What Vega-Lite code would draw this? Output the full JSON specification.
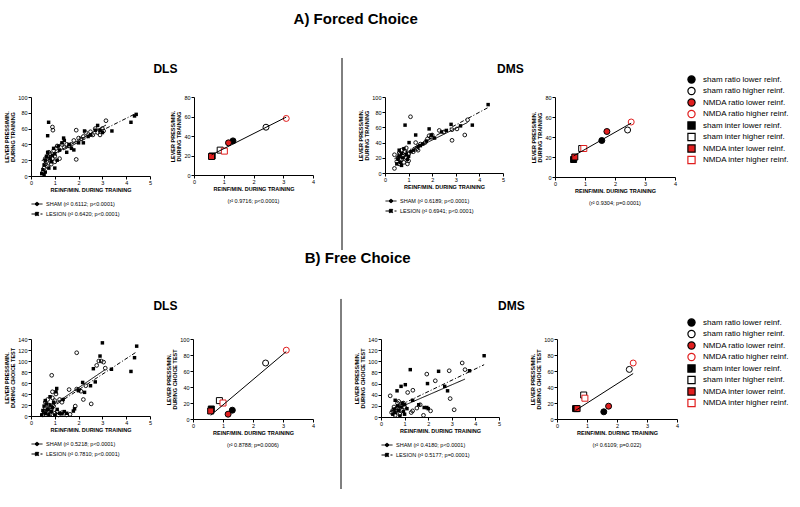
{
  "$schema": "https://vega.github.io/schema/vega-lite/v6.json",
  "background": "white",
  "padding": {"left": 4, "top": 12, "right": 0, "bottom": 0},
  "datasets": {
    "fdls": [
      {"grp":"SHAM","x":0.5,"y":5},{"grp":"SHAM","x":0.55,"y":10},{"grp":"SHAM","x":0.6,"y":15},{"grp":"SHAM","x":0.6,"y":22},{"grp":"SHAM","x":0.65,"y":18},{"grp":"SHAM","x":0.7,"y":25},{"grp":"SHAM","x":0.7,"y":12},{"grp":"SHAM","x":0.75,"y":30},{"grp":"SHAM","x":0.8,"y":20},{"grp":"SHAM","x":0.8,"y":28},{"grp":"SHAM","x":0.85,"y":15},{"grp":"SHAM","x":0.9,"y":22},{"grp":"SHAM","x":0.9,"y":62},{"grp":"SHAM","x":0.92,"y":58},{"grp":"SHAM","x":0.95,"y":32},{"grp":"SHAM","x":1.0,"y":18},{"grp":"SHAM","x":1.0,"y":25},{"grp":"SHAM","x":1.05,"y":35},{"grp":"SHAM","x":1.1,"y":38},{"grp":"SHAM","x":1.2,"y":22},{"grp":"SHAM","x":1.3,"y":40},{"grp":"SHAM","x":1.4,"y":36},{"grp":"SHAM","x":1.5,"y":40},{"grp":"SHAM","x":1.6,"y":38},{"grp":"SHAM","x":1.7,"y":40},{"grp":"SHAM","x":1.8,"y":45},{"grp":"SHAM","x":1.9,"y":58},{"grp":"SHAM","x":1.9,"y":21},{"grp":"SHAM","x":2.0,"y":48},{"grp":"SHAM","x":2.1,"y":47},{"grp":"SHAM","x":2.2,"y":50},{"grp":"SHAM","x":2.3,"y":55},{"grp":"SHAM","x":2.5,"y":56},{"grp":"SHAM","x":2.6,"y":52},{"grp":"SHAM","x":2.7,"y":60},{"grp":"SHAM","x":2.8,"y":55},{"grp":"SHAM","x":2.9,"y":52},{"grp":"SHAM","x":3.0,"y":60},{"grp":"SHAM","x":3.05,"y":57},{"grp":"SHAM","x":3.15,"y":70},
      {"grp":"LESION","x":0.45,"y":3},{"grp":"LESION","x":0.5,"y":8},{"grp":"LESION","x":0.55,"y":2},{"grp":"LESION","x":0.55,"y":14},{"grp":"LESION","x":0.6,"y":20},{"grp":"LESION","x":0.6,"y":5},{"grp":"LESION","x":0.65,"y":25},{"grp":"LESION","x":0.7,"y":30},{"grp":"LESION","x":0.7,"y":51},{"grp":"LESION","x":0.74,"y":68},{"grp":"LESION","x":0.75,"y":10},{"grp":"LESION","x":0.8,"y":22},{"grp":"LESION","x":0.85,"y":18},{"grp":"LESION","x":0.9,"y":26},{"grp":"LESION","x":0.95,"y":35},{"grp":"LESION","x":1.0,"y":10},{"grp":"LESION","x":1.0,"y":28},{"grp":"LESION","x":1.1,"y":20},{"grp":"LESION","x":1.15,"y":38},{"grp":"LESION","x":1.2,"y":33},{"grp":"LESION","x":1.3,"y":42},{"grp":"LESION","x":1.37,"y":48},{"grp":"LESION","x":1.4,"y":45},{"grp":"LESION","x":1.5,"y":30},{"grp":"LESION","x":1.6,"y":40},{"grp":"LESION","x":1.7,"y":35},{"grp":"LESION","x":1.8,"y":33},{"grp":"LESION","x":2.0,"y":42},{"grp":"LESION","x":2.2,"y":42},{"grp":"LESION","x":2.25,"y":57},{"grp":"LESION","x":2.4,"y":50},{"grp":"LESION","x":2.5,"y":52},{"grp":"LESION","x":2.7,"y":58},{"grp":"LESION","x":2.8,"y":64},{"grp":"LESION","x":2.9,"y":58},{"grp":"LESION","x":3.0,"y":55},{"grp":"LESION","x":3.4,"y":57},{"grp":"LESION","x":4.2,"y":68},{"grp":"LESION","x":4.35,"y":76},{"grp":"LESION","x":4.42,"y":78}
    ],
    "fdms": [
      {"grp":"SHAM","x":0.4,"y":6},{"grp":"SHAM","x":0.4,"y":24},{"grp":"SHAM","x":0.5,"y":15},{"grp":"SHAM","x":0.55,"y":20},{"grp":"SHAM","x":0.6,"y":12},{"grp":"SHAM","x":0.6,"y":26},{"grp":"SHAM","x":0.65,"y":25},{"grp":"SHAM","x":0.7,"y":18},{"grp":"SHAM","x":0.7,"y":30},{"grp":"SHAM","x":0.75,"y":22},{"grp":"SHAM","x":0.8,"y":14},{"grp":"SHAM","x":0.85,"y":28},{"grp":"SHAM","x":0.9,"y":20},{"grp":"SHAM","x":0.9,"y":33},{"grp":"SHAM","x":0.95,"y":12},{"grp":"SHAM","x":1.0,"y":25},{"grp":"SHAM","x":1.0,"y":16},{"grp":"SHAM","x":1.08,"y":74},{"grp":"SHAM","x":1.2,"y":28},{"grp":"SHAM","x":1.3,"y":40},{"grp":"SHAM","x":1.35,"y":32},{"grp":"SHAM","x":1.4,"y":30},{"grp":"SHAM","x":1.5,"y":38},{"grp":"SHAM","x":1.7,"y":40},{"grp":"SHAM","x":1.8,"y":45},{"grp":"SHAM","x":1.87,"y":49},{"grp":"SHAM","x":1.95,"y":47},{"grp":"SHAM","x":2.0,"y":50},{"grp":"SHAM","x":2.3,"y":56},{"grp":"SHAM","x":2.5,"y":54},{"grp":"SHAM","x":2.84,"y":43},{"grp":"SHAM","x":2.84,"y":57},{"grp":"SHAM","x":3.05,"y":58},{"grp":"SHAM","x":3.38,"y":50},{"grp":"SHAM","x":3.5,"y":70},
      {"grp":"LESION","x":0.5,"y":12},{"grp":"LESION","x":0.55,"y":18},{"grp":"LESION","x":0.6,"y":22},{"grp":"LESION","x":0.6,"y":30},{"grp":"LESION","x":0.65,"y":14},{"grp":"LESION","x":0.7,"y":26},{"grp":"LESION","x":0.7,"y":10},{"grp":"LESION","x":0.75,"y":20},{"grp":"LESION","x":0.8,"y":32},{"grp":"LESION","x":0.85,"y":63},{"grp":"LESION","x":0.9,"y":24},{"grp":"LESION","x":0.95,"y":18},{"grp":"LESION","x":1.0,"y":22},{"grp":"LESION","x":1.02,"y":40},{"grp":"LESION","x":1.1,"y":28},{"grp":"LESION","x":1.2,"y":30},{"grp":"LESION","x":1.3,"y":50},{"grp":"LESION","x":1.4,"y":35},{"grp":"LESION","x":1.5,"y":36},{"grp":"LESION","x":1.6,"y":38},{"grp":"LESION","x":1.75,"y":42},{"grp":"LESION","x":1.87,"y":58},{"grp":"LESION","x":1.96,"y":50},{"grp":"LESION","x":2.1,"y":46},{"grp":"LESION","x":2.4,"y":54},{"grp":"LESION","x":2.6,"y":56},{"grp":"LESION","x":2.8,"y":64},{"grp":"LESION","x":3.2,"y":62},{"grp":"LESION","x":3.7,"y":63},{"grp":"LESION","x":4.37,"y":90}
    ],
    "frdls": [
      {"grp":"SHAM","x":0.5,"y":2},{"grp":"SHAM","x":0.55,"y":8},{"grp":"SHAM","x":0.6,"y":15},{"grp":"SHAM","x":0.6,"y":25},{"grp":"SHAM","x":0.65,"y":5},{"grp":"SHAM","x":0.7,"y":30},{"grp":"SHAM","x":0.7,"y":12},{"grp":"SHAM","x":0.75,"y":20},{"grp":"SHAM","x":0.8,"y":3},{"grp":"SHAM","x":0.85,"y":10},{"grp":"SHAM","x":0.87,"y":74},{"grp":"SHAM","x":0.9,"y":44},{"grp":"SHAM","x":0.9,"y":33},{"grp":"SHAM","x":0.95,"y":18},{"grp":"SHAM","x":1.0,"y":28},{"grp":"SHAM","x":1.0,"y":5},{"grp":"SHAM","x":1.05,"y":40},{"grp":"SHAM","x":1.1,"y":8},{"grp":"SHAM","x":1.15,"y":2},{"grp":"SHAM","x":1.2,"y":30},{"grp":"SHAM","x":1.3,"y":6},{"grp":"SHAM","x":1.3,"y":25},{"grp":"SHAM","x":1.5,"y":2},{"grp":"SHAM","x":1.6,"y":48},{"grp":"SHAM","x":1.64,"y":3},{"grp":"SHAM","x":1.86,"y":18},{"grp":"SHAM","x":1.92,"y":115},{"grp":"SHAM","x":1.92,"y":49},{"grp":"SHAM","x":2.0,"y":48},{"grp":"SHAM","x":2.1,"y":45},{"grp":"SHAM","x":2.2,"y":30},{"grp":"SHAM","x":2.3,"y":55},{"grp":"SHAM","x":2.53,"y":22},{"grp":"SHAM","x":2.76,"y":92},{"grp":"SHAM","x":2.85,"y":100},{"grp":"SHAM","x":2.95,"y":100},{"grp":"SHAM","x":3.05,"y":98},{"grp":"SHAM","x":3.12,"y":87},
      {"grp":"LESION","x":0.45,"y":2},{"grp":"LESION","x":0.5,"y":10},{"grp":"LESION","x":0.55,"y":18},{"grp":"LESION","x":0.6,"y":5},{"grp":"LESION","x":0.6,"y":28},{"grp":"LESION","x":0.65,"y":22},{"grp":"LESION","x":0.7,"y":12},{"grp":"LESION","x":0.75,"y":3},{"grp":"LESION","x":0.8,"y":20},{"grp":"LESION","x":0.8,"y":35},{"grp":"LESION","x":0.85,"y":8},{"grp":"LESION","x":0.9,"y":15},{"grp":"LESION","x":0.95,"y":25},{"grp":"LESION","x":1.0,"y":2},{"grp":"LESION","x":1.05,"y":44},{"grp":"LESION","x":1.08,"y":50},{"grp":"LESION","x":1.1,"y":12},{"grp":"LESION","x":1.2,"y":5},{"grp":"LESION","x":1.3,"y":4},{"grp":"LESION","x":1.35,"y":30},{"grp":"LESION","x":1.4,"y":8},{"grp":"LESION","x":1.5,"y":5},{"grp":"LESION","x":1.78,"y":9},{"grp":"LESION","x":1.83,"y":13},{"grp":"LESION","x":2.0,"y":46},{"grp":"LESION","x":2.17,"y":61},{"grp":"LESION","x":2.25,"y":43},{"grp":"LESION","x":2.5,"y":55},{"grp":"LESION","x":2.62,"y":86},{"grp":"LESION","x":2.7,"y":62},{"grp":"LESION","x":2.9,"y":109},{"grp":"LESION","x":3.0,"y":133},{"grp":"LESION","x":3.38,"y":85},{"grp":"LESION","x":4.2,"y":81},{"grp":"LESION","x":4.35,"y":106},{"grp":"LESION","x":4.44,"y":127}
    ],
    "frdms": [
      {"grp":"SHAM","x":0.39,"y":38},{"grp":"SHAM","x":0.45,"y":8},{"grp":"SHAM","x":0.5,"y":12},{"grp":"SHAM","x":0.55,"y":18},{"grp":"SHAM","x":0.6,"y":3},{"grp":"SHAM","x":0.65,"y":10},{"grp":"SHAM","x":0.7,"y":15},{"grp":"SHAM","x":0.7,"y":25},{"grp":"SHAM","x":0.75,"y":28},{"grp":"SHAM","x":0.8,"y":5},{"grp":"SHAM","x":0.85,"y":20},{"grp":"SHAM","x":0.9,"y":12},{"grp":"SHAM","x":0.95,"y":25},{"grp":"SHAM","x":1.0,"y":18},{"grp":"SHAM","x":1.13,"y":44},{"grp":"SHAM","x":1.28,"y":8},{"grp":"SHAM","x":1.34,"y":11},{"grp":"SHAM","x":1.35,"y":48},{"grp":"SHAM","x":1.52,"y":16},{"grp":"SHAM","x":1.66,"y":22},{"grp":"SHAM","x":1.8,"y":3},{"grp":"SHAM","x":1.94,"y":77},{"grp":"SHAM","x":2.1,"y":11},{"grp":"SHAM","x":2.3,"y":65},{"grp":"SHAM","x":2.89,"y":83},{"grp":"SHAM","x":2.93,"y":33},{"grp":"SHAM","x":3.1,"y":13},{"grp":"SHAM","x":3.44,"y":97},{"grp":"SHAM","x":3.56,"y":85},
      {"grp":"LESION","x":0.5,"y":5},{"grp":"LESION","x":0.55,"y":14},{"grp":"LESION","x":0.6,"y":8},{"grp":"LESION","x":0.6,"y":30},{"grp":"LESION","x":0.68,"y":47},{"grp":"LESION","x":0.7,"y":20},{"grp":"LESION","x":0.75,"y":12},{"grp":"LESION","x":0.8,"y":2},{"grp":"LESION","x":0.85,"y":55},{"grp":"LESION","x":0.85,"y":18},{"grp":"LESION","x":0.9,"y":25},{"grp":"LESION","x":0.95,"y":10},{"grp":"LESION","x":1.0,"y":22},{"grp":"LESION","x":1.0,"y":5},{"grp":"LESION","x":1.03,"y":58},{"grp":"LESION","x":1.1,"y":15},{"grp":"LESION","x":1.24,"y":85},{"grp":"LESION","x":1.34,"y":30},{"grp":"LESION","x":1.6,"y":22},{"grp":"LESION","x":1.83,"y":17},{"grp":"LESION","x":1.94,"y":17},{"grp":"LESION","x":1.97,"y":60},{"grp":"LESION","x":2.0,"y":15},{"grp":"LESION","x":2.44,"y":82},{"grp":"LESION","x":2.7,"y":55},{"grp":"LESION","x":2.82,"y":47},{"grp":"LESION","x":3.75,"y":83},{"grp":"LESION","x":4.37,"y":110}
    ],
    "fdls_s": [
      {"grp":"sham ratio lower reinf.","x":1.31,"y":35},{"grp":"sham ratio higher reinf.","x":2.42,"y":49},{"grp":"sham inter lower reinf.","x":0.61,"y":19.5},{"grp":"sham inter higher reinf.","x":0.88,"y":25.5},
      {"grp":"NMDA ratio lower reinf.","x":1.16,"y":33},{"grp":"NMDA ratio higher reinf.","x":3.1,"y":58},{"grp":"NMDA inter lower reinf.","x":0.59,"y":19},{"grp":"NMDA inter higher reinf.","x":1.02,"y":24.5}
    ],
    "fdms_s": [
      {"grp":"sham ratio lower reinf.","x":1.56,"y":36.5},{"grp":"sham ratio higher reinf.","x":2.42,"y":47},{"grp":"sham inter lower reinf.","x":0.62,"y":17.5},{"grp":"sham inter higher reinf.","x":0.89,"y":28.5},
      {"grp":"NMDA ratio lower reinf.","x":1.73,"y":45.5},{"grp":"NMDA ratio higher reinf.","x":2.54,"y":55},{"grp":"NMDA inter lower reinf.","x":0.66,"y":20},{"grp":"NMDA inter higher reinf.","x":0.96,"y":28.5}
    ],
    "frdls_s": [
      {"grp":"sham ratio lower reinf.","x":1.31,"y":11},{"grp":"sham ratio higher reinf.","x":2.42,"y":70},{"grp":"sham inter lower reinf.","x":0.61,"y":12.5},{"grp":"sham inter higher reinf.","x":0.88,"y":23},
      {"grp":"NMDA ratio lower reinf.","x":1.17,"y":6},{"grp":"NMDA ratio higher reinf.","x":3.11,"y":86},{"grp":"NMDA inter lower reinf.","x":0.59,"y":10},{"grp":"NMDA inter higher reinf.","x":1.0,"y":20}
    ],
    "frdms_s": [
      {"grp":"sham ratio lower reinf.","x":1.56,"y":9},{"grp":"sham ratio higher reinf.","x":2.41,"y":62},{"grp":"sham inter lower reinf.","x":0.62,"y":13},{"grp":"sham inter higher reinf.","x":0.89,"y":30},
      {"grp":"NMDA ratio lower reinf.","x":1.72,"y":16},{"grp":"NMDA ratio higher reinf.","x":2.54,"y":70},{"grp":"NMDA inter lower reinf.","x":0.67,"y":13},{"grp":"NMDA inter higher reinf.","x":0.93,"y":26}
    ]
  },
  "spacing": 0,
  "resolve": {
    "scale": {"shape": "independent", "fill": "independent", "stroke": "independent", "color": "independent", "strokeDash": "independent"},
    "legend": {"shape": "independent", "fill": "independent", "stroke": "independent", "color": "independent", "strokeDash": "independent"}
  },
  "vconcat": [
    {
      "title": {"text": "A) Forced Choice", "fontSize": 15, "offset": 30, "dx": -41},
      "spacing": 15,
      "resolve": {"scale": {"color": "independent", "strokeDash": "independent"}, "legend": {"color": "independent", "strokeDash": "independent"}},
      "hconcat": [
        {
          "title": {"text": "DLS", "fontSize": 12, "offset": 19, "dx": 6},
          "spacing": 18,
          "resolve": {"scale": {"color": "independent", "strokeDash": "independent"}, "legend": {"color": "independent", "strokeDash": "independent"}},
          "hconcat": [
            {
              "width": 119, "height": 79,
              "data": {"name": "fdls"},
              "layer": [
                {"transform": [{"filter": "datum.grp == 'SHAM'"}],
                 "mark": {"type": "point", "shape": "circle", "filled": false, "color": "black", "size": 14, "strokeWidth": 0.9, "opacity": 1},
                 "encoding": {
                   "x": {"field": "x", "type": "quantitative", "scale": {"domain": [0, 5], "nice": false}, "axis": {"tickCount": 5, "title": "REINF/MIN. DURING TRAINING"}},
                   "y": {"field": "y", "type": "quantitative", "scale": {"domain": [0, 100], "nice": false}, "axis": {"tickCount": 5, "title": ["LEVER PRESS/MIN.", "DURING TRAINING"]}}}},
                {"transform": [{"filter": "datum.grp == 'LESION'"}],
                 "mark": {"type": "square", "color": "black", "size": 12, "opacity": 1},
                 "encoding": {"x": {"field": "x", "type": "quantitative"}, "y": {"field": "y", "type": "quantitative"}}},
                {"transform": [{"regression": "y", "on": "x", "groupby": ["grp"]}],
                 "mark": {"type": "line", "strokeWidth": 1},
                 "encoding": {
                   "x": {"field": "x", "type": "quantitative"}, "y": {"field": "y", "type": "quantitative"},
                   "color": {"field": "grp", "type": "nominal", "scale": {"domain": ["SHAM", "LESION"], "range": ["black", "black"]},
                     "legend": {"title": null, "orient": "bottom", "direction": "vertical", "offset": 5, "symbolSize": 121, "labelFontSize": 5.5, "labelColor": "black", "rowPadding": 0, "labelOffset": 3, "padding": 0,
                       "labelExpr": "datum.label == 'SHAM' ? 'SHAM (r² 0.6112; p<0.0001)' : 'LESION (r² 0.6420; p<0.0001)'",
                       "encode": {"symbols": {"update": {"shape": {"signal": "datum.value == 'SHAM' ? 'M-1,0H1M-0.3,0A0.3,0.3 0 1,1 0.3,0A0.3,0.3 0 1,1 -0.3,0Z' : 'M-1,0H1M-0.3,-0.3H0.3V0.3H-0.3Z'"}, "fill": {"value": "black"}, "stroke": {"value": "black"}, "strokeWidth": {"value": 1}, "strokeDash": {"value": [1, 0]}}}}}},
                   "strokeDash": {"field": "grp", "type": "nominal", "scale": {"domain": ["SHAM", "LESION"], "range": [[1, 0], [4, 2, 1, 2]]}, "legend": null}}}
              ]
            },
            {
              "width": 119, "height": 78,
              "data": {"name": "fdls_s"},
              "title": {"text": "(r² 0.9716; p<0.0001)", "orient": "bottom", "fontSize": 5.5, "fontWeight": "normal", "font": "Liberation Sans", "offset": 7},
              "layer": [
                {"mark": {"type": "point", "filled": true, "size": 36, "strokeWidth": 1, "opacity": 1},
                 "encoding": {
                   "x": {"field": "x", "type": "quantitative", "scale": {"domain": [0, 4], "nice": false}, "axis": {"tickCount": 4, "title": "REINF/MIN. DURING TRAINING"}},
                   "y": {"field": "y", "type": "quantitative", "scale": {"domain": [0, 80], "nice": false}, "axis": {"tickCount": 4, "title": ["LEVER PRESS/MIN.", "DURING TRAINING"]}},
                   "shape": {"field": "grp", "type": "nominal", "scale": {"domain": ["sham ratio lower reinf.", "sham ratio higher reinf.", "NMDA ratio lower reinf.", "NMDA ratio higher reinf.", "sham inter lower reinf.", "sham inter higher reinf.", "NMDA inter lower reinf.", "NMDA inter higher reinf."], "range": ["circle", "circle", "circle", "circle", "square", "square", "square", "square"]},
                     "legend": {"title": null, "orient": "none", "legendX": 656, "legendY": -22, "padding": 0, "symbolSize": 52, "labelFontSize": 8, "labelColor": "black", "rowPadding": -1.5, "labelOffset": 7, "symbolStrokeWidth": 1.2}},
                   "fill": {"field": "grp", "type": "nominal", "scale": {"domain": ["sham ratio lower reinf.", "sham ratio higher reinf.", "NMDA ratio lower reinf.", "NMDA ratio higher reinf.", "sham inter lower reinf.", "sham inter higher reinf.", "NMDA inter lower reinf.", "NMDA inter higher reinf."], "range": ["black", "white", "#e01e1e", "white", "black", "white", "#e01e1e", "white"]},
                     "legend": {"title": null, "orient": "none", "legendX": 656, "legendY": -22, "padding": 0, "symbolSize": 52, "labelFontSize": 8, "labelColor": "black", "rowPadding": -1.5, "labelOffset": 7, "symbolStrokeWidth": 1.2}},
                   "stroke": {"field": "grp", "type": "nominal", "scale": {"domain": ["sham ratio lower reinf.", "sham ratio higher reinf.", "NMDA ratio lower reinf.", "NMDA ratio higher reinf.", "sham inter lower reinf.", "sham inter higher reinf.", "NMDA inter lower reinf.", "NMDA inter higher reinf."], "range": ["black", "black", "black", "#e01e1e", "black", "black", "black", "#e01e1e"]},
                     "legend": {"title": null, "orient": "none", "legendX": 656, "legendY": -22, "padding": 0, "symbolSize": 52, "labelFontSize": 8, "labelColor": "black", "rowPadding": -1.5, "labelOffset": 7, "symbolStrokeWidth": 1.2}}}},
                {"transform": [{"regression": "y", "on": "x"}],
                 "mark": {"type": "line", "color": "black", "strokeWidth": 1},
                 "encoding": {"x": {"field": "x", "type": "quantitative"}, "y": {"field": "y", "type": "quantitative"}}}
              ]
            }
          ]
        },
        {
          "width": 12, "height": 153,
          "data": {"values": [{"item": "separator"}]},
          "mark": {"type": "rule", "color": "black", "strokeWidth": 1, "clip": false},
          "encoding": {
            "x": {"datum": 1, "type": "quantitative", "scale": {"domain": [0, 1]}, "axis": null},
            "y": {"datum": 1.255, "type": "quantitative", "scale": {"domain": [0, 1]}, "axis": null},
            "y2": {"datum": 0}
          }
        },
        {
          "title": {"text": "DMS", "fontSize": 12, "offset": 19, "dx": -7},
          "spacing": 26,
          "resolve": {"scale": {"color": "independent", "strokeDash": "independent"}, "legend": {"color": "independent", "strokeDash": "independent"}},
          "hconcat": [
            {
              "width": 118, "height": 76,
              "data": {"name": "fdms"},
              "layer": [
                {"transform": [{"filter": "datum.grp == 'SHAM'"}],
                 "mark": {"type": "point", "shape": "circle", "filled": false, "color": "black", "size": 14, "strokeWidth": 0.9, "opacity": 1},
                 "encoding": {
                   "x": {"field": "x", "type": "quantitative", "scale": {"domain": [0, 5], "nice": false}, "axis": {"tickCount": 5, "title": "REINF/MIN. DURING TRAINING"}},
                   "y": {"field": "y", "type": "quantitative", "scale": {"domain": [0, 100], "nice": false}, "axis": {"tickCount": 5, "title": ["LEVER PRESS/MIN.", "DURING TRAINING"]}}}},
                {"transform": [{"filter": "datum.grp == 'LESION'"}],
                 "mark": {"type": "square", "color": "black", "size": 12, "opacity": 1},
                 "encoding": {"x": {"field": "x", "type": "quantitative"}, "y": {"field": "y", "type": "quantitative"}}},
                {"transform": [{"regression": "y", "on": "x", "groupby": ["grp"]}],
                 "mark": {"type": "line", "strokeWidth": 1},
                 "encoding": {
                   "x": {"field": "x", "type": "quantitative"}, "y": {"field": "y", "type": "quantitative"},
                   "color": {"field": "grp", "type": "nominal", "scale": {"domain": ["SHAM", "LESION"], "range": ["black", "black"]},
                     "legend": {"title": null, "orient": "bottom", "direction": "vertical", "offset": 5, "symbolSize": 121, "labelFontSize": 5.5, "labelColor": "black", "rowPadding": 0, "labelOffset": 3, "padding": 0,
                       "labelExpr": "datum.label == 'SHAM' ? 'SHAM (r² 0.6189; p<0.0001)' : 'LESION (r² 0.6941; p<0.0001)'",
                       "encode": {"symbols": {"update": {"shape": {"signal": "datum.value == 'SHAM' ? 'M-1,0H1M-0.3,0A0.3,0.3 0 1,1 0.3,0A0.3,0.3 0 1,1 -0.3,0Z' : 'M-1,0H1M-0.3,-0.3H0.3V0.3H-0.3Z'"}, "fill": {"value": "black"}, "stroke": {"value": "black"}, "strokeWidth": {"value": 1}, "strokeDash": {"value": [1, 0]}}}}}},
                   "strokeDash": {"field": "grp", "type": "nominal", "scale": {"domain": ["SHAM", "LESION"], "range": [[1, 0], [4, 2, 1, 2]]}, "legend": null}}}
              ]
            },
            {
              "width": 120, "height": 80,
              "data": {"name": "fdms_s"},
              "title": {"text": "(r² 0.9304; p=0.0001)", "orient": "bottom", "fontSize": 5.5, "fontWeight": "normal", "font": "Liberation Sans", "offset": 7},
              "layer": [
                {"mark": {"type": "point", "filled": true, "size": 36, "strokeWidth": 1, "opacity": 1},
                 "encoding": {
                   "x": {"field": "x", "type": "quantitative", "scale": {"domain": [0, 4], "nice": false}, "axis": {"tickCount": 4, "title": "REINF/MIN. DURING TRAINING"}},
                   "y": {"field": "y", "type": "quantitative", "scale": {"domain": [0, 80], "nice": false}, "axis": {"tickCount": 4, "title": ["LEVER PRESS/MIN.", "DURING TRAINING"]}},
                   "shape": {"field": "grp", "type": "nominal", "scale": {"domain": ["sham ratio lower reinf.", "sham ratio higher reinf.", "NMDA ratio lower reinf.", "NMDA ratio higher reinf.", "sham inter lower reinf.", "sham inter higher reinf.", "NMDA inter lower reinf.", "NMDA inter higher reinf."], "range": ["circle", "circle", "circle", "circle", "square", "square", "square", "square"]},
                     "legend": {"title": null, "orient": "none", "legendX": 656, "legendY": -22, "padding": 0, "symbolSize": 52, "labelFontSize": 8, "labelColor": "black", "rowPadding": -1.5, "labelOffset": 7, "symbolStrokeWidth": 1.2}},
                   "fill": {"field": "grp", "type": "nominal", "scale": {"domain": ["sham ratio lower reinf.", "sham ratio higher reinf.", "NMDA ratio lower reinf.", "NMDA ratio higher reinf.", "sham inter lower reinf.", "sham inter higher reinf.", "NMDA inter lower reinf.", "NMDA inter higher reinf."], "range": ["black", "white", "#e01e1e", "white", "black", "white", "#e01e1e", "white"]},
                     "legend": {"title": null, "orient": "none", "legendX": 656, "legendY": -22, "padding": 0, "symbolSize": 52, "labelFontSize": 8, "labelColor": "black", "rowPadding": -1.5, "labelOffset": 7, "symbolStrokeWidth": 1.2}},
                   "stroke": {"field": "grp", "type": "nominal", "scale": {"domain": ["sham ratio lower reinf.", "sham ratio higher reinf.", "NMDA ratio lower reinf.", "NMDA ratio higher reinf.", "sham inter lower reinf.", "sham inter higher reinf.", "NMDA inter lower reinf.", "NMDA inter higher reinf."], "range": ["black", "black", "black", "#e01e1e", "black", "black", "black", "#e01e1e"]},
                     "legend": {"title": null, "orient": "none", "legendX": 656, "legendY": -22, "padding": 0, "symbolSize": 52, "labelFontSize": 8, "labelColor": "black", "rowPadding": -1.5, "labelOffset": 7, "symbolStrokeWidth": 1.2}}}},
                {"transform": [{"regression": "y", "on": "x"}],
                 "mark": {"type": "line", "color": "black", "strokeWidth": 1},
                 "encoding": {"x": {"field": "x", "type": "quantitative"}, "y": {"field": "y", "type": "quantitative"}}}
              ]
            }
          ]
        }
      ]
    },
    {
      "title": {"text": "B) Free Choice", "fontSize": 15, "offset": 32, "dx": -39},
      "spacing": 12,
      "resolve": {"scale": {"color": "independent", "strokeDash": "independent"}, "legend": {"color": "independent", "strokeDash": "independent"}},
      "hconcat": [
        {
          "title": {"text": "DLS", "fontSize": 12, "offset": 24, "dx": 6},
          "spacing": 14,
          "resolve": {"scale": {"color": "independent", "strokeDash": "independent"}, "legend": {"color": "independent", "strokeDash": "independent"}},
          "hconcat": [
            {
              "width": 119, "height": 77,
              "data": {"name": "frdls"},
              "layer": [
                {"transform": [{"filter": "datum.grp == 'SHAM'"}],
                 "mark": {"type": "point", "shape": "circle", "filled": false, "color": "black", "size": 14, "strokeWidth": 0.9, "opacity": 1},
                 "encoding": {
                   "x": {"field": "x", "type": "quantitative", "scale": {"domain": [0, 5], "nice": false}, "axis": {"tickCount": 5, "title": "REINF/MIN. DURING TRAINING"}},
                   "y": {"field": "y", "type": "quantitative", "scale": {"domain": [0, 140], "nice": false}, "axis": {"tickCount": 7, "title": ["LEVER PRESS/MIN.", "DURING CHOICE TEST"]}}}},
                {"transform": [{"filter": "datum.grp == 'LESION'"}],
                 "mark": {"type": "square", "color": "black", "size": 12, "opacity": 1},
                 "encoding": {"x": {"field": "x", "type": "quantitative"}, "y": {"field": "y", "type": "quantitative"}}},
                {"transform": [{"regression": "y", "on": "x", "groupby": ["grp"]}],
                 "mark": {"type": "line", "strokeWidth": 1},
                 "encoding": {
                   "x": {"field": "x", "type": "quantitative"}, "y": {"field": "y", "type": "quantitative"},
                   "color": {"field": "grp", "type": "nominal", "scale": {"domain": ["SHAM", "LESION"], "range": ["black", "black"]},
                     "legend": {"title": null, "orient": "bottom", "direction": "vertical", "offset": 5, "symbolSize": 121, "labelFontSize": 5.5, "labelColor": "black", "rowPadding": 0, "labelOffset": 3, "padding": 0,
                       "labelExpr": "datum.label == 'SHAM' ? 'SHAM (r² 0.5218; p<0.0001)' : 'LESION (r² 0.7810; p<0.0001)'",
                       "encode": {"symbols": {"update": {"shape": {"signal": "datum.value == 'SHAM' ? 'M-1,0H1M-0.3,0A0.3,0.3 0 1,1 0.3,0A0.3,0.3 0 1,1 -0.3,0Z' : 'M-1,0H1M-0.3,-0.3H0.3V0.3H-0.3Z'"}, "fill": {"value": "black"}, "stroke": {"value": "black"}, "strokeWidth": {"value": 1}, "strokeDash": {"value": [1, 0]}}}}}},
                   "strokeDash": {"field": "grp", "type": "nominal", "scale": {"domain": ["SHAM", "LESION"], "range": [[1, 0], [4, 2, 1, 2]]}, "legend": null}}}
              ]
            },
            {
              "width": 120, "height": 80,
              "data": {"name": "frdls_s"},
              "title": {"text": "(r² 0.8788; p=0.0006)", "orient": "bottom", "fontSize": 5.5, "fontWeight": "normal", "font": "Liberation Sans", "offset": 7},
              "layer": [
                {"mark": {"type": "point", "filled": true, "size": 36, "strokeWidth": 1, "opacity": 1},
                 "encoding": {
                   "x": {"field": "x", "type": "quantitative", "scale": {"domain": [0, 4], "nice": false}, "axis": {"tickCount": 4, "title": "REINF/MIN. DURING TRAINING"}},
                   "y": {"field": "y", "type": "quantitative", "scale": {"domain": [0, 100], "nice": false}, "axis": {"tickCount": 5, "title": ["LEVER PRESS/MIN.", "DURING CHOICE TEST"]}},
                   "shape": {"field": "grp", "type": "nominal", "scale": {"domain": ["sham ratio lower reinf.", "sham ratio higher reinf.", "NMDA ratio lower reinf.", "NMDA ratio higher reinf.", "sham inter lower reinf.", "sham inter higher reinf.", "NMDA inter lower reinf.", "NMDA inter higher reinf."], "range": ["circle", "circle", "circle", "circle", "square", "square", "square", "square"]},
                     "legend": {"title": null, "orient": "none", "legendX": 656, "legendY": -21, "padding": 0, "symbolSize": 52, "labelFontSize": 8, "labelColor": "black", "rowPadding": -1.5, "labelOffset": 7, "symbolStrokeWidth": 1.2}},
                   "fill": {"field": "grp", "type": "nominal", "scale": {"domain": ["sham ratio lower reinf.", "sham ratio higher reinf.", "NMDA ratio lower reinf.", "NMDA ratio higher reinf.", "sham inter lower reinf.", "sham inter higher reinf.", "NMDA inter lower reinf.", "NMDA inter higher reinf."], "range": ["black", "white", "#e01e1e", "white", "black", "white", "#e01e1e", "white"]},
                     "legend": {"title": null, "orient": "none", "legendX": 656, "legendY": -21, "padding": 0, "symbolSize": 52, "labelFontSize": 8, "labelColor": "black", "rowPadding": -1.5, "labelOffset": 7, "symbolStrokeWidth": 1.2}},
                   "stroke": {"field": "grp", "type": "nominal", "scale": {"domain": ["sham ratio lower reinf.", "sham ratio higher reinf.", "NMDA ratio lower reinf.", "NMDA ratio higher reinf.", "sham inter lower reinf.", "sham inter higher reinf.", "NMDA inter lower reinf.", "NMDA inter higher reinf."], "range": ["black", "black", "black", "#e01e1e", "black", "black", "black", "#e01e1e"]},
                     "legend": {"title": null, "orient": "none", "legendX": 656, "legendY": -21, "padding": 0, "symbolSize": 52, "labelFontSize": 8, "labelColor": "black", "rowPadding": -1.5, "labelOffset": 7, "symbolStrokeWidth": 1.2}}}},
                {"transform": [{"regression": "y", "on": "x"}],
                 "mark": {"type": "line", "color": "black", "strokeWidth": 1},
                 "encoding": {"x": {"field": "x", "type": "quantitative"}, "y": {"field": "y", "type": "quantitative"}}}
              ]
            }
          ]
        },
        {
          "width": 14, "height": 150,
          "data": {"values": [{"item": "separator"}]},
          "mark": {"type": "rule", "color": "black", "strokeWidth": 1, "clip": false},
          "encoding": {
            "x": {"datum": 1, "type": "quantitative", "scale": {"domain": [0, 1]}, "axis": null},
            "y": {"datum": 1.267, "type": "quantitative", "scale": {"domain": [0, 1]}, "axis": null},
            "y2": {"datum": 0}
          }
        },
        {
          "title": {"text": "DMS", "fontSize": 12, "offset": 24, "dx": -5},
          "spacing": 29,
          "resolve": {"scale": {"color": "independent", "strokeDash": "independent"}, "legend": {"color": "independent", "strokeDash": "independent"}},
          "hconcat": [
            {
              "width": 118, "height": 78,
              "data": {"name": "frdms"},
              "layer": [
                {"transform": [{"filter": "datum.grp == 'SHAM'"}],
                 "mark": {"type": "point", "shape": "circle", "filled": false, "color": "black", "size": 14, "strokeWidth": 0.9, "opacity": 1},
                 "encoding": {
                   "x": {"field": "x", "type": "quantitative", "scale": {"domain": [0, 5], "nice": false}, "axis": {"tickCount": 5, "title": "REINF/MIN. DURING TRAINING"}},
                   "y": {"field": "y", "type": "quantitative", "scale": {"domain": [0, 140], "nice": false}, "axis": {"tickCount": 7, "title": ["LEVER PRESS/MIN.", "DURING CHOICE TEST"]}}}},
                {"transform": [{"filter": "datum.grp == 'LESION'"}],
                 "mark": {"type": "square", "color": "black", "size": 12, "opacity": 1},
                 "encoding": {"x": {"field": "x", "type": "quantitative"}, "y": {"field": "y", "type": "quantitative"}}},
                {"transform": [{"regression": "y", "on": "x", "groupby": ["grp"]}],
                 "mark": {"type": "line", "strokeWidth": 1},
                 "encoding": {
                   "x": {"field": "x", "type": "quantitative"}, "y": {"field": "y", "type": "quantitative"},
                   "color": {"field": "grp", "type": "nominal", "scale": {"domain": ["SHAM", "LESION"], "range": ["black", "black"]},
                     "legend": {"title": null, "orient": "bottom", "direction": "vertical", "offset": 5, "symbolSize": 121, "labelFontSize": 5.5, "labelColor": "black", "rowPadding": 0, "labelOffset": 3, "padding": 0,
                       "labelExpr": "datum.label == 'SHAM' ? 'SHAM (r² 0.4180; p<0.0001)' : 'LESION (r² 0.5177; p=0.0001)'",
                       "encode": {"symbols": {"update": {"shape": {"signal": "datum.value == 'SHAM' ? 'M-1,0H1M-0.3,0A0.3,0.3 0 1,1 0.3,0A0.3,0.3 0 1,1 -0.3,0Z' : 'M-1,0H1M-0.3,-0.3H0.3V0.3H-0.3Z'"}, "fill": {"value": "black"}, "stroke": {"value": "black"}, "strokeWidth": {"value": 1}, "strokeDash": {"value": [1, 0]}}}}}},
                   "strokeDash": {"field": "grp", "type": "nominal", "scale": {"domain": ["SHAM", "LESION"], "range": [[1, 0], [4, 2, 1, 2]]}, "legend": null}}}
              ]
            },
            {
              "width": 120, "height": 80,
              "data": {"name": "frdms_s"},
              "title": {"text": "(r² 0.6109; p=0.022)", "orient": "bottom", "fontSize": 5.5, "fontWeight": "normal", "font": "Liberation Sans", "offset": 7},
              "layer": [
                {"mark": {"type": "point", "filled": true, "size": 36, "strokeWidth": 1, "opacity": 1},
                 "encoding": {
                   "x": {"field": "x", "type": "quantitative", "scale": {"domain": [0, 4], "nice": false}, "axis": {"tickCount": 4, "title": "REINF/MIN. DURING TRAINING"}},
                   "y": {"field": "y", "type": "quantitative", "scale": {"domain": [0, 100], "nice": false}, "axis": {"tickCount": 5, "title": ["LEVER PRESS/MIN.", "DURING CHOICE TEST"]}},
                   "shape": {"field": "grp", "type": "nominal", "scale": {"domain": ["sham ratio lower reinf.", "sham ratio higher reinf.", "NMDA ratio lower reinf.", "NMDA ratio higher reinf.", "sham inter lower reinf.", "sham inter higher reinf.", "NMDA inter lower reinf.", "NMDA inter higher reinf."], "range": ["circle", "circle", "circle", "circle", "square", "square", "square", "square"]},
                     "legend": {"title": null, "orient": "none", "legendX": 656, "legendY": -21, "padding": 0, "symbolSize": 52, "labelFontSize": 8, "labelColor": "black", "rowPadding": -1.5, "labelOffset": 7, "symbolStrokeWidth": 1.2}},
                   "fill": {"field": "grp", "type": "nominal", "scale": {"domain": ["sham ratio lower reinf.", "sham ratio higher reinf.", "NMDA ratio lower reinf.", "NMDA ratio higher reinf.", "sham inter lower reinf.", "sham inter higher reinf.", "NMDA inter lower reinf.", "NMDA inter higher reinf."], "range": ["black", "white", "#e01e1e", "white", "black", "white", "#e01e1e", "white"]},
                     "legend": {"title": null, "orient": "none", "legendX": 656, "legendY": -21, "padding": 0, "symbolSize": 52, "labelFontSize": 8, "labelColor": "black", "rowPadding": -1.5, "labelOffset": 7, "symbolStrokeWidth": 1.2}},
                   "stroke": {"field": "grp", "type": "nominal", "scale": {"domain": ["sham ratio lower reinf.", "sham ratio higher reinf.", "NMDA ratio lower reinf.", "NMDA ratio higher reinf.", "sham inter lower reinf.", "sham inter higher reinf.", "NMDA inter lower reinf.", "NMDA inter higher reinf."], "range": ["black", "black", "black", "#e01e1e", "black", "black", "black", "#e01e1e"]},
                     "legend": {"title": null, "orient": "none", "legendX": 656, "legendY": -21, "padding": 0, "symbolSize": 52, "labelFontSize": 8, "labelColor": "black", "rowPadding": -1.5, "labelOffset": 7, "symbolStrokeWidth": 1.2}}}},
                {"transform": [{"regression": "y", "on": "x"}],
                 "mark": {"type": "line", "color": "black", "strokeWidth": 1},
                 "encoding": {"x": {"field": "x", "type": "quantitative"}, "y": {"field": "y", "type": "quantitative"}}}
              ]
            }
          ]
        }
      ]
    }
  ],
  "config": {
    "font": "Liberation Sans",
    "view": {"stroke": null},
    "axis": {"grid": false, "domainColor": "black", "tickColor": "black", "tickSize": 3, "labelFontSize": 5.5, "labelColor": "black", "labelPadding": 1, "labelFlush": false, "labelOverlap": false, "titleFontSize": 5.5, "titleFontWeight": "bold", "titleColor": "black", "titlePadding": 2, "titleLineHeight": 6.5, "domainWidth": 1, "tickWidth": 1},
    "legend": {"labelFont": "Liberation Sans"},
    "title": {"font": "Liberation Sans Narrow, Liberation Sans", "fontWeight": "bold", "color": "black", "anchor": "middle"}
  }
}
